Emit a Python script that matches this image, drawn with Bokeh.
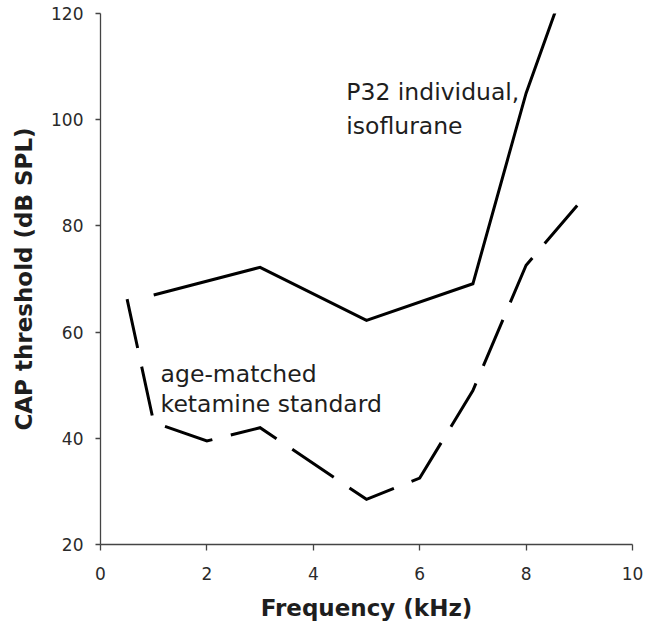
from bokeh.plotting import figure
from bokeh.models import Range1d, FixedTicker, Label
from bokeh.embed import file_html
from bokeh.resources import INLINE

# Data
freq_p32 = [1, 3, 5, 7, 8, 9]
thr_p32 = [67, 72.2, 62.2, 69.1, 105, 133]

freq_std = [0.5, 1, 2, 3, 5, 6, 7, 8, 9]
thr_std = [66.2, 43, 39.5, 42, 28.5, 32.5, 49, 72.6, 84.3]

x_ticks = [0, 2, 4, 6, 8, 10]
y_ticks = [20, 40, 60, 80, 100, 120]

FONT = "DejaVu Sans"
TXT = "#1e1e1e"

p = figure(width=651, height=623, x_range=Range1d(0, 10), y_range=Range1d(20, 120),
           output_backend="svg", toolbar_location=None,
           min_border_left=100, min_border_right=19, min_border_top=13, min_border_bottom=78)
p.grid.visible = False
p.outline_line_color = None
p.background_fill_color = "white"
p.border_fill_color = "white"

p.xaxis.ticker = FixedTicker(ticks=x_ticks)
p.yaxis.ticker = FixedTicker(ticks=y_ticks)
for ax in (p.xaxis, p.yaxis):
    ax.minor_tick_line_color = None
    ax.axis_line_color = "#444444"
    ax.major_tick_line_color = "#444444"
    ax.axis_line_width = 1.3
    ax.major_tick_line_width = 1.3
    ax.major_tick_in = 0
    ax.major_label_text_font = FONT
    ax.major_label_text_font_size = "17px"
    ax.major_label_text_color = "#2a2a2a"
    ax.axis_label_text_font = FONT
    ax.axis_label_text_font_size = "23px"
    ax.axis_label_text_font_style = "bold"
    ax.axis_label_text_color = TXT

p.xaxis.major_tick_out = 6
p.xaxis.major_label_standoff = 16
p.xaxis.axis_label_standoff = 12
p.xaxis.axis_label = "Frequency (kHz)"

p.yaxis.major_tick_out = 5
p.yaxis.major_label_standoff = 12
p.yaxis.axis_label_standoff = 11
p.yaxis.axis_label = "CAP threshold (dB SPL)"

p.line(freq_p32, thr_p32, line_width=3, line_color="black", line_join="miter")
p.line(freq_std, thr_std, line_width=3, line_color="black", line_join="miter",
       line_dash="50 19")

labels = [
    (4.62, 105.2, "P32 individual,"),
    (4.62, 98.9, "isoflurane"),
    (1.13, 52.1, "age-matched"),
    (1.13, 46.5, "ketamine standard"),
]
for lx, ly, t in labels:
    p.add_layout(Label(x=lx, y=ly, text=t, text_font=FONT, text_font_size="23.5px",
                       text_color=TXT, text_baseline="alphabetic", text_align="left"))

open("out.html", "w").write(file_html(p, INLINE))
